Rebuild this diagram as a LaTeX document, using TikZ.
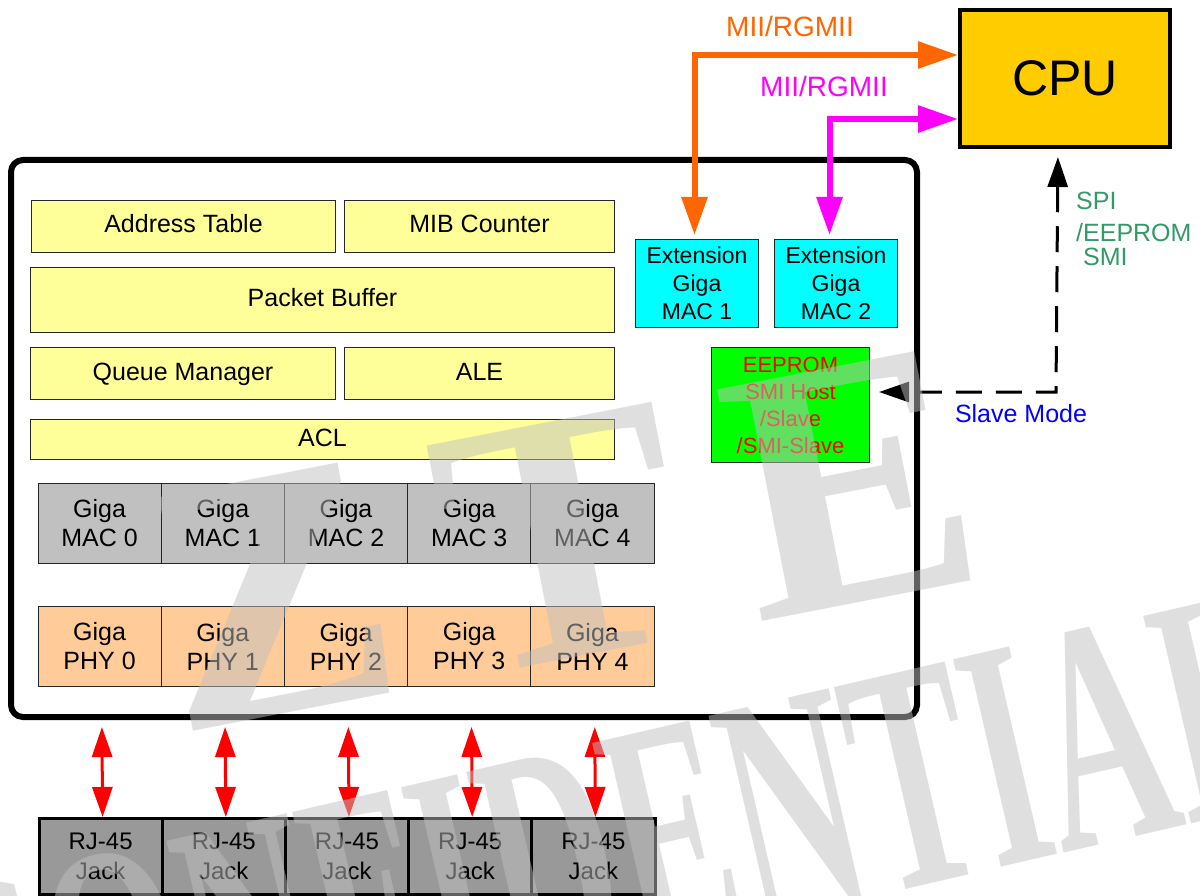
\documentclass[tikz,border=0pt]{standalone}
\usepackage{fontspec}
\setmainfont{Liberation Sans}
\newfontfamily\wmfont{Liberation Serif}
\usetikzlibrary{arrows.meta}
\definecolor{yfill}{HTML}{FFFF99}
\definecolor{cyanfill}{HTML}{00FFFF}
\definecolor{greenfill}{HTML}{00FF00}
\definecolor{phyfill}{HTML}{FFCC99}
\definecolor{macfill}{HTML}{C0C0C0}
\definecolor{rjfill}{HTML}{999999}
\definecolor{cpufill}{HTML}{FFCC00}
\definecolor{miiorange}{HTML}{FF6600}
\definecolor{miimagenta}{HTML}{FF00FF}
\definecolor{spigreen}{HTML}{339966}
\definecolor{slaveblue}{HTML}{0000FF}
\definecolor{wmgray}{HTML}{C0C0C0}
\tikzset{
  box/.style={draw=black!85, line width=1pt, inner sep=0pt, align=center, anchor=north west},
  ybox/.style={box, fill=yfill, font=\fontsize{25}{29}\selectfont, text height=18pt, text depth=5pt},
  cell/.style={box, minimum width=123.2pt, minimum height=80pt, font=\fontsize{25}{29}\selectfont},
  macbox/.style={cell, fill=macfill},
  phybox/.style={cell, fill=phyfill},
  rjbox/.style={cell, fill=rjfill, draw=black, line width=3pt, minimum height=76pt, font=\fontsize{24}{30}\selectfont},
  extbox/.style={box, fill=cyanfill, minimum width=123pt, minimum height=88pt, font=\fontsize{23}{28}\selectfont},
  portarr/.style={red, line width=3pt, {Triangle[length=30pt,width=20pt]}-{Triangle[length=30pt,width=20pt]}},
  miiarr/.style={line width=6pt, {Triangle[length=38pt,width=25pt]}-{Triangle[length=40pt,width=26pt]}},
  smiarr/.style={line width=3pt, dash pattern=on 26pt off 14pt, {Triangle[length=30pt,width=20pt]}-{Triangle[length=30pt,width=20pt]}},
  lbl/.style={inner sep=0pt, font=\fontsize{25}{29}\selectfont},
  wmark/.style={text=wmgray, text opacity=0.5, inner sep=0pt}
}
\begin{document}
\begin{tikzpicture}[x=1pt,y=-1pt]
\useasboundingbox (0,0) rectangle (1200,896);
% switch chip outline
\draw[line width=6pt, rounded corners=12pt] (11,160) rectangle (917,717);
\node[ybox, minimum width=304pt, minimum height=52pt] (addr) at (31,200) {Address Table};
\node[ybox, minimum width=270pt, minimum height=52pt] (mib) at (344,200) {MIB Counter};
\node[ybox, minimum width=584pt, minimum height=65pt] (pbuf) at (30,267) {Packet Buffer};
\node[ybox, minimum width=305pt, minimum height=52pt] (qmgr) at (30,347) {Queue Manager};
\node[ybox, minimum width=270pt, minimum height=52pt] (ale) at (344,347) {ALE};
\node[ybox, minimum width=584pt, minimum height=40pt] (acl) at (30,419) {ACL};
\node[extbox] (ext1) at (635,239) {Extension\\Giga\\MAC 1};
\node[extbox] (ext2) at (774,239) {Extension\\Giga\\MAC 2};
\node[box, fill=greenfill, text=red, minimum width=158pt, minimum height=115pt,
  font=\fontsize{22}{27}\selectfont] (eeprom) at (711,347) {EEPROM\\SMI Host\\/Slave\\/SMI-Slave};
% ports
\foreach \i in {0,...,4} {
  \node[macbox] (mac\i) at (37.5+123.2*\i,483) {Giga\\MAC \i};
  \node[phybox] (phy\i) at (37.5+123.2*\i,606) {Giga\\PHY \i};
  \node[rjbox] (rj\i) at (37.5+123.2*\i,817) {RJ-45\\Jack};
  \draw[portarr, shorten <=40pt] ([xshift=2pt]phy\i.south) -- ([xshift=2pt]rj\i.north);
}
% cpu
\node[box, fill=cpufill, draw=black, line width=4pt, minimum width=210pt, minimum height=137pt,
  font=\fontsize{50}{60}\selectfont] (cpu) at (958,8) {CPU};
\draw[miiarr, miiorange, shorten <=4pt] ([xshift=-2.5pt]ext1.north) |- ([yshift=23.5pt]cpu.west);
\draw[miiarr, miimagenta, shorten <=4pt] ([xshift=-6.5pt]ext2.north) |- ([yshift=-40.5pt]cpu.west);
\node[lbl, text=miiorange, font=\fontsize{28}{32}\selectfont] (miione) at (790,26) {MII/RGMII};
\node[lbl, text=miimagenta, font=\fontsize{28}{32}\selectfont] (miitwo) at (824,86) {MII/RGMII};
\coordinate (smibend) at (1056,392);
\draw[smiarr, shorten <=8pt, shorten >=9pt] ([xshift=-7pt]cpu.south) -- (smibend) -- (eeprom.east |- smibend);
\node[lbl, text=spigreen, align=left, anchor=north west] (spi) at (1076,192) {SPI\\[3pt]/EEPROM\\[-5pt]\ SMI};
\node[lbl, text=slaveblue] (slave) at (1021,414) {Slave Mode};
% watermark
\node[wmark, font=\wmfont\bfseries\fontsize{360}{360}\selectfont, rotate=11] (wmzte) at (562,540) {Z\hspace{55pt}T\hspace{55pt}E};
\node[wmark, font=\wmfont\bfseries\fontsize{325}{325}\selectfont, rotate=13, anchor=base west] (wmconf) at (-50,1110) {\scalebox{0.55}[1]{CONFIDENTIAL}};
\end{tikzpicture}
\end{document}
